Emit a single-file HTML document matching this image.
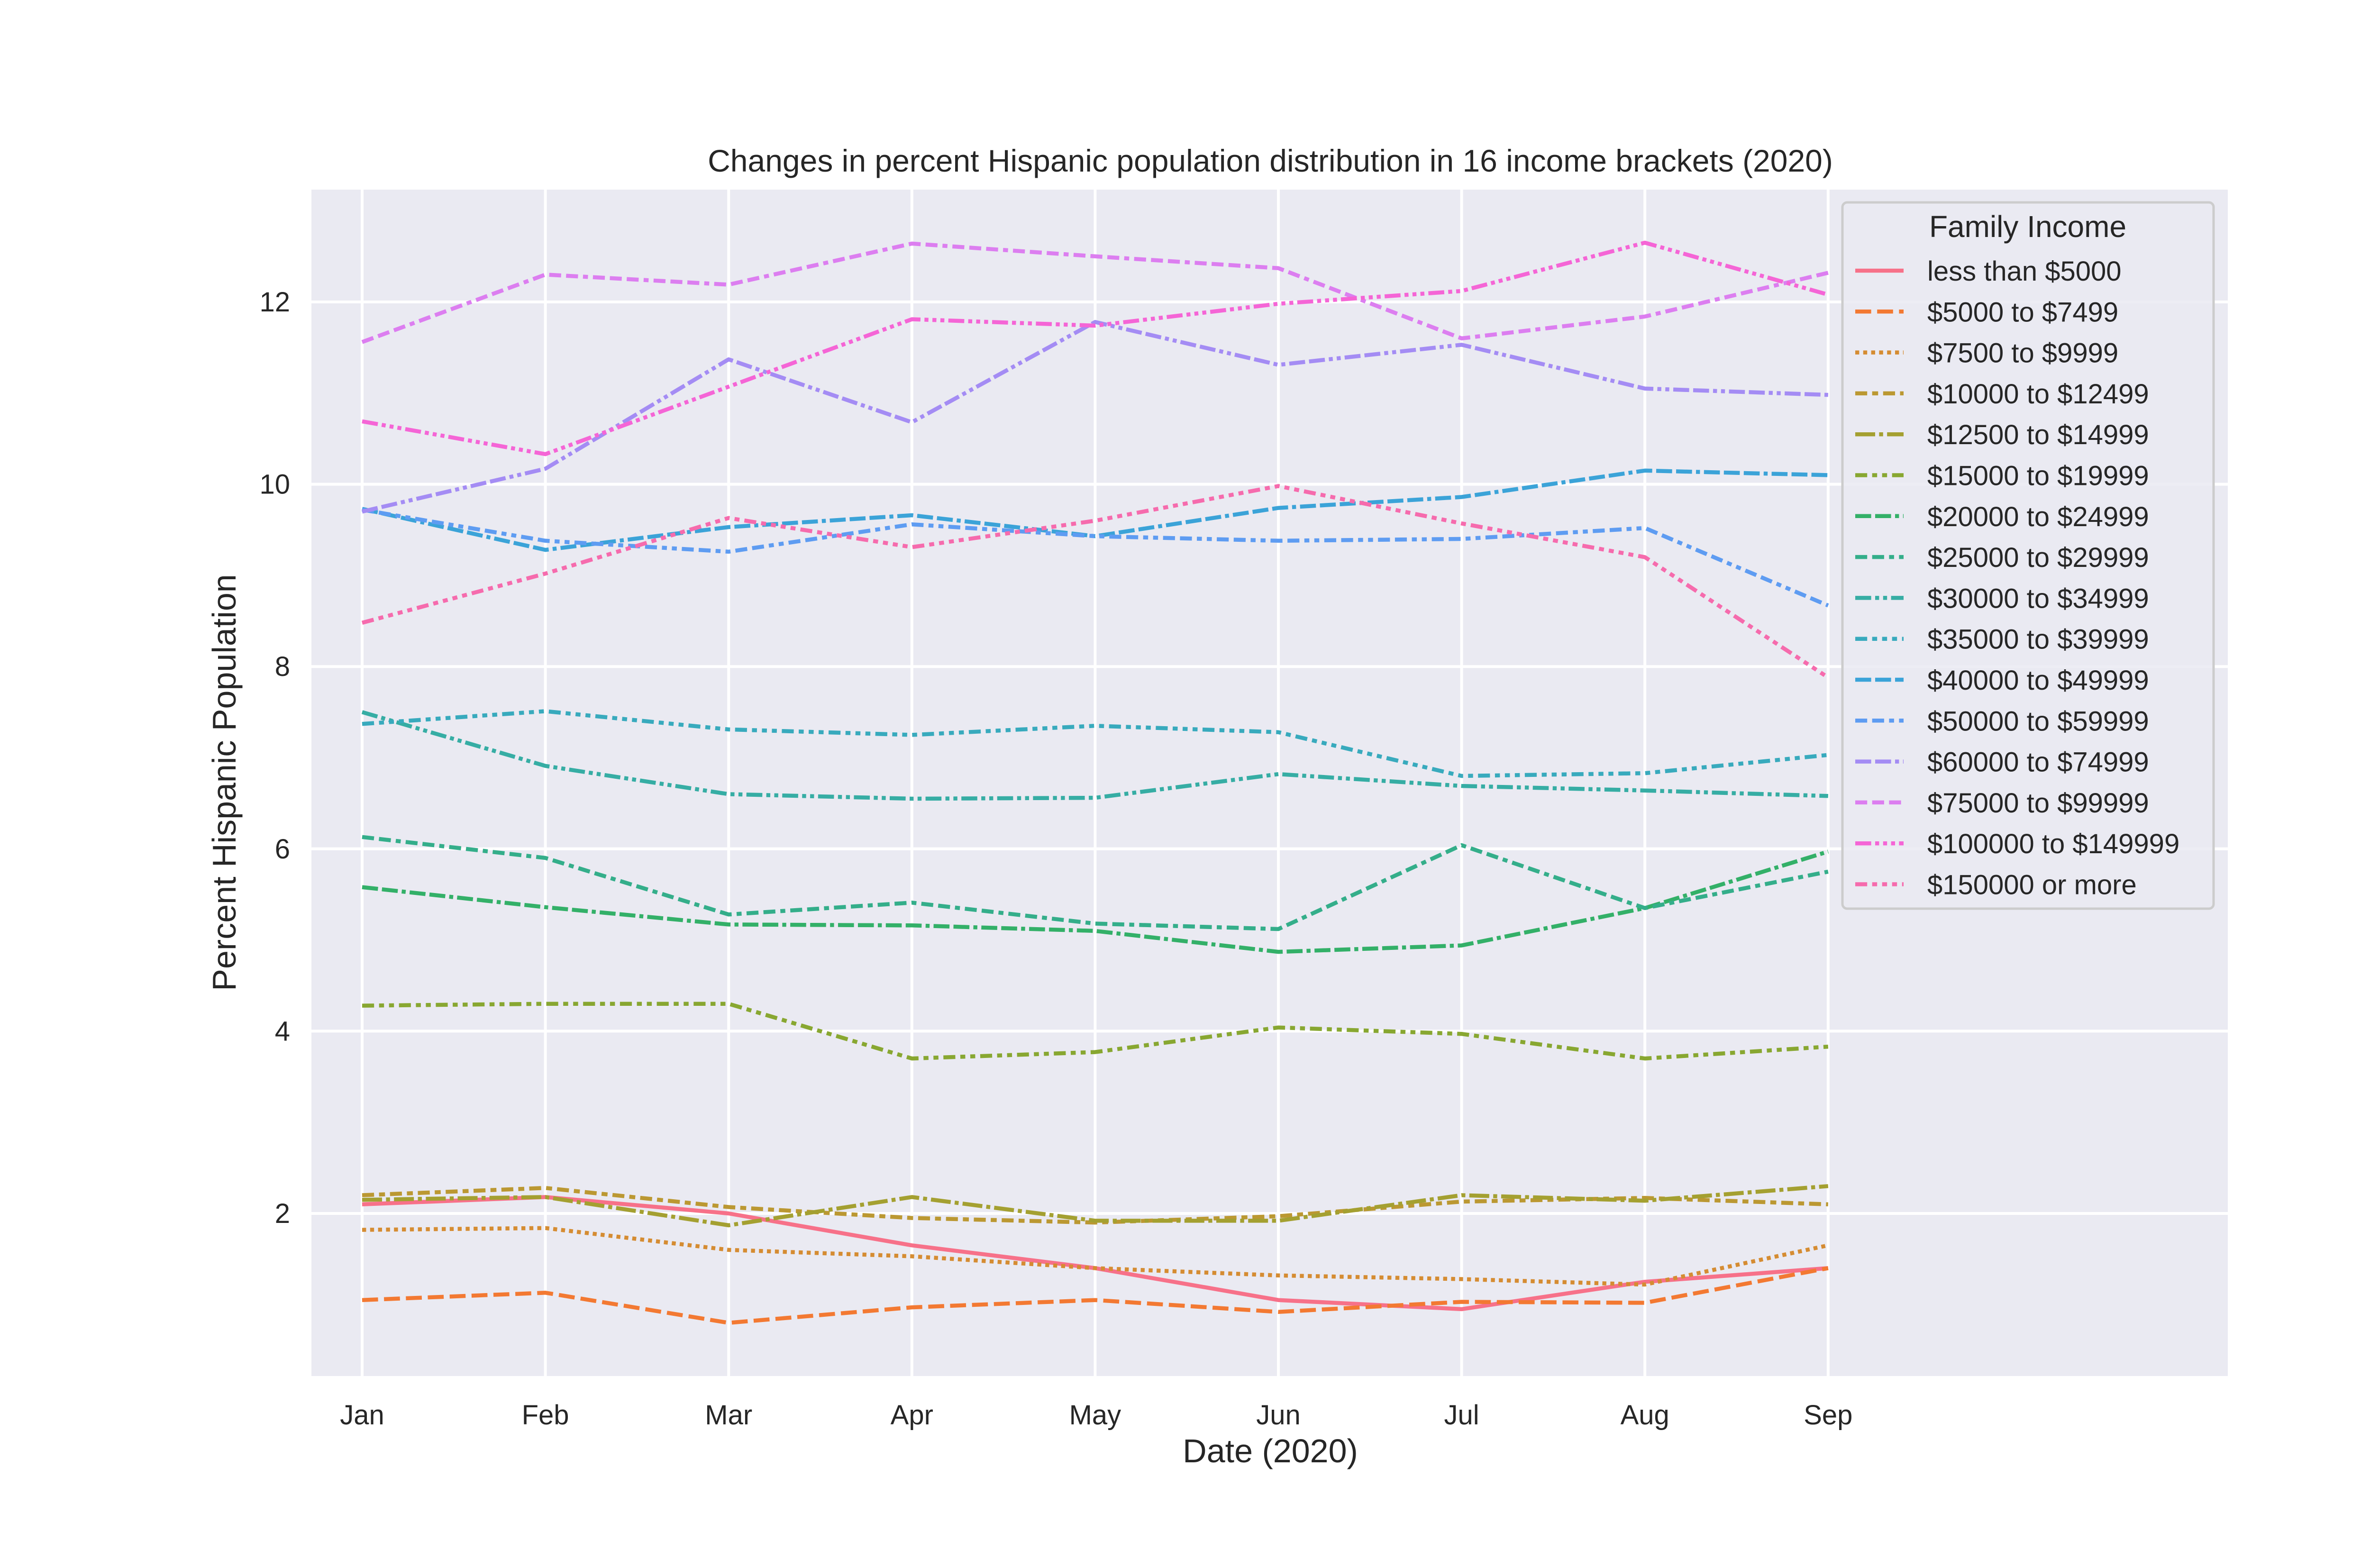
<!DOCTYPE html>
<html><head><meta charset="utf-8"><style>
html,body{margin:0;padding:0;background:#fff;}
svg{display:block;font-family:"Liberation Sans","DejaVu Sans",sans-serif;}
</style></head><body>
<svg id="chart" width="5200" height="3308" viewBox="0 0 5200 3308" xmlns="http://www.w3.org/2000/svg">
<rect x="657" y="400" width="4043" height="2503" fill="#eaeaf2"/>
<g id="grid"></g>
<g id="series"></g>
<g id="ticks"></g>
<text x="2680" y="362" font-size="66" text-anchor="middle" fill="#262626">Changes in percent Hispanic population distribution in 16 income brackets (2020)</text>
<text x="2680" y="3085" font-size="70" text-anchor="middle" fill="#262626">Date (2020)</text>
<text x="497" y="1651" font-size="70" text-anchor="middle" fill="#262626" transform="rotate(-90 497 1651)">Percent Hispanic Population</text>
<g id="legend"></g>
</svg>
<script>
const months = ["Jan","Feb","Mar","Apr","May","Jun","Jul","Aug","Sep"];
const yTicks = [2,4,6,8,10,12];
const seriesNames = ["less than $5000","$5000 to $7499","$7500 to $9999","$10000 to $12499","$12500 to $14999","$15000 to $19999","$20000 to $24999","$25000 to $29999","$30000 to $34999","$35000 to $39999","$40000 to $49999","$50000 to $59999","$60000 to $74999","$75000 to $99999","$100000 to $149999","$150000 or more"];
const s01 = [2.1,2.18,2.0,1.65,1.4,1.05,0.95,1.25,1.4];
const s02 = [1.05,1.13,0.8,0.97,1.05,0.92,1.03,1.02,1.4];
const s03 = [1.82,1.84,1.6,1.53,1.4,1.32,1.28,1.22,1.65];
const s04 = [2.2,2.28,2.07,1.95,1.9,1.97,2.13,2.17,2.1];
const s05 = [2.15,2.18,1.87,2.18,1.92,1.92,2.2,2.14,2.3];
const s06 = [4.28,4.3,4.3,3.7,3.77,4.04,3.97,3.7,3.83];
const s07 = [5.58,5.36,5.17,5.16,5.1,4.87,4.94,5.35,5.97];
const s08 = [6.13,5.9,5.28,5.41,5.18,5.12,6.04,5.35,5.75];
const s09 = [7.5,6.91,6.6,6.55,6.56,6.82,6.69,6.64,6.58];
const s10 = [7.37,7.51,7.31,7.25,7.35,7.28,6.8,6.83,7.03];
const s11 = [9.73,9.28,9.53,9.66,9.43,9.74,9.86,10.15,10.1];
const s12 = [9.72,9.38,9.26,9.56,9.43,9.38,9.4,9.52,8.67];
const s13 = [9.7,10.17,11.37,10.68,11.78,11.31,11.53,11.05,10.98];
const s14 = [11.56,12.3,12.19,12.64,12.5,12.37,11.6,11.84,12.32];
const s15 = [10.69,10.33,11.07,11.81,11.74,11.98,12.12,12.65,12.08];
const s16 = [8.48,9.02,9.63,9.31,9.6,9.98,9.57,9.2,7.88];
const allSeries = [s01,s02,s03,s04,s05,s06,s07,s08,s09,s10,s11,s12,s13,s14,s15,s16];

const colors = ["#f77189","#f37932","#d58c32","#bb9832","#a4a031","#88a731","#33b068","#34ae8a","#36ada4","#38aabd","#3ba3d8","#5e9cf2","#a48cf4","#dc7ef0","#f565d6","#f66bad"];
const dashSpecs = [[],[4,1.5],[1,1],[3,1.25,1.5,1.25],[5,1,1,1],[3,1.25,1.25,1.25,1.25,1.25],[4,1,4,1,1,1],[3,1.25,3,1.25,1.25,1.25],[4,1,1,1,1,1],[3,1.25,1.25,1.25,1.25,1.25,1.25,1.25],[4,1,4,1,4,1,1,1],[3,1.25,3,1.25,1.25,1.25,1.25,1.25],[4,1,4,1,1,1,1,1],[3,1.25,3,1.25,3,1.25,1.25,1.25],[4,1,1,1,1,1,1,1],[3,1.25,1.25,1.25,1.25,1.25,1.25,1.25,1.25,1.25]];
const LW = 8.5;
const DU = 8.4;
const NS = "http://www.w3.org/2000/svg";
function xScale(i){ return 764 + i*386.6; }
function yScale(v){ return 2560 - (v-2)*192.3; }
function mk(tag, attrs, parent){ const e=document.createElementNS(NS,tag); for(const k in attrs) e.setAttribute(k,attrs[k]); parent.appendChild(e); return e; }

const grid=document.getElementById('grid'), ticks=document.getElementById('ticks');
months.forEach((m,i)=>{
  const l=mk('line',{x1:xScale(i),x2:xScale(i),y1:400,y2:2903,stroke:'#fff','stroke-width':6},grid);
  
  
  const t=mk('text',{x:xScale(i),y:3005,'font-size':58,'text-anchor':'middle',fill:'#262626'},ticks);
  t.textContent=m;
  
  
});
yTicks.forEach(v=>{
  const l=mk('line',{x1:657,x2:4700,y1:yScale(v),y2:yScale(v),stroke:'#fff','stroke-width':6},grid);
  
  
  const t=mk('text',{x:612,y:yScale(v)+20,'font-size':58,'text-anchor':'end',fill:'#262626'},ticks);
  t.textContent=v;
  
  
});
const sg=document.getElementById('series');
allSeries.forEach((s,k)=>{
  const pts=s.map((v,i)=>xScale(i).toFixed(1)+','+yScale(v).toFixed(1)).join(' ');
  const da=dashSpecs[k].length?dashSpecs[k].map(d=>d*DU).join(' '):'none';
  const p=mk('polyline',{points:pts,fill:'none',stroke:colors[k],'stroke-width':LW,'stroke-dasharray':da,'stroke-linejoin':'round'},sg);
  
  
});
const lg=document.getElementById('legend');
const box=mk('rect',{x:3887,y:427,width:783,height:1490,rx:10,fill:'#eaeaf2','fill-opacity':0.85,stroke:'#cccccc','stroke-width':5},lg);


const lt=mk('text',{x:4278,y:500,'font-size':64,'text-anchor':'middle',fill:'#262626'},lg);
lt.textContent='Family Income';


seriesNames.forEach((n,k)=>{
  const y=571+k*86.3;
  const da=dashSpecs[k].length?dashSpecs[k].map(d=>d*DU).join(' '):'none';
  const l=mk('line',{x1:3894+20,x2:4016,y1:y,y2:y,stroke:colors[k],'stroke-width':LW,'stroke-dasharray':da},lg);
  
  
  const t=mk('text',{x:4066,y:y+21,'font-size':58,fill:'#262626'},lg);
  t.textContent=n;
  
  
});
</script>
</body></html>
